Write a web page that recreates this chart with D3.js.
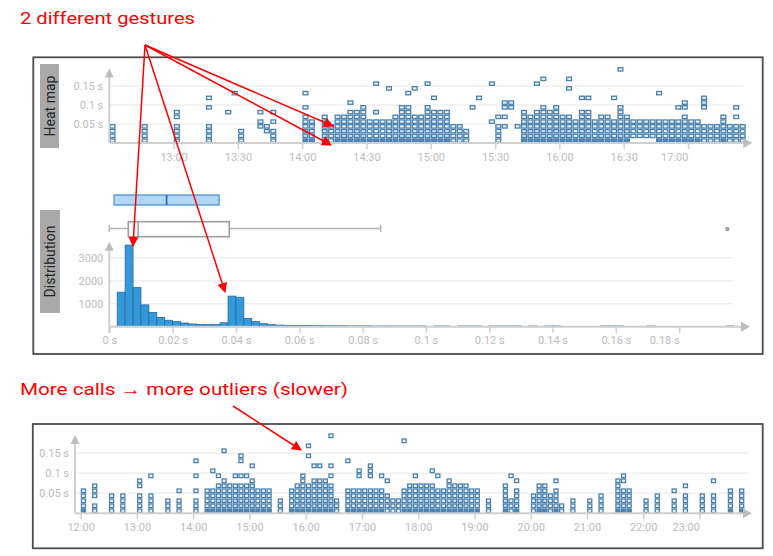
<!DOCTYPE html>
<html>
<head>
<meta charset="utf-8">
<script src="https://cdn.jsdelivr.net/npm/d3@7"></script>
<style>
  body { margin: 0; background: #fff; }
  text { font-family: Roboto, "Noto Sans", sans-serif; }
</style>
</head>
<body>
<svg id="chart" width="773" height="556"></svg>
<script>
// ---- data ----
// heat map cells: bucket start time, and filled 12.5 ms rows ("0-3 5" = rows 0,1,2,3,5)
const topTimes = ["12:30","12:45","13:00","13:15","13:24","13:27","13:30","13:39","13:42","13:45",
  "14:00","14:03","14:09","14:12","14:15","14:18","14:21","14:24","14:27","14:30","14:33","14:36",
  "14:39","14:42","14:45","14:48","14:51","14:54","14:57","15:00","15:03","15:06","15:09","15:12",
  "15:15","15:18","15:21","15:27","15:30","15:33","15:36","15:39","15:42","15:45","15:48","15:51",
  "15:54","15:57","16:00","16:03","16:06","16:09","16:12","16:15","16:18","16:21","16:24","16:27",
  "16:30","16:33","16:36","16:39","16:42","16:45","16:48","16:51","16:54","16:57","17:00","17:03",
  "17:06","17:09","17:12","17:15","17:18","17:21","17:24"];
const topCells = ["0-3","0-3","0-3 5 6","0-3 7 9","6","10","0-2","3 4 6","2 3","0-2 4 6",
  "0-5 7 10","0-4","0-5","0-3","0-5","0-5","0-6 8","0-6","0-7","0-4","0-4 6 12","0-4",
  "0-4 11","0-5","0-7","0-7 10","0-5 11","0-5","0-7 12","0-6 9","0-6","0-6","0-3","0-3",
  "0-2","7","9","4 12","0-3 5","3 5 7 8","7 8","3","0-6","0-5","0-6 12","0-7 13",
  "0-6","0-7","0-5","0-5 11 13","0-4","0-6 9","0-6 9","0-4","0-5","0-5","0-4 9","0-7 15",
  "0-5","1-4","1-4","1-4","1-4","0-4 10","0-4","0-4","0-4 7","0-5 7 8","0-4","0-4",
  "0-3 7-9","0-3","0-3","0-5","0-3","0-3 5 7","0-3"];

const bottomTimes = ["12:00","12:12","12:30","12:42","13:00","13:12","13:30","13:42","14:00","14:12",
  "14:18","14:24","14:30","14:36","14:42","14:48","14:54","15:00","15:06","15:12","15:18","15:30",
  "15:42","15:48","15:54","16:00","16:06","16:12","16:18","16:24","16:30","16:42","16:48","16:54",
  "17:00","17:06","17:12","17:18","17:24","17:30","17:36","17:42","17:48","17:54","18:00","18:06",
  "18:12","18:18","18:24","18:30","18:36","18:42","18:48","18:54","19:00","19:12","19:30","19:36",
  "19:42","20:00","20:06","20:12","20:18","20:24","20:30","20:42","21:00","21:12","21:30","21:36",
  "21:42","22:00","22:12","22:30","22:42","23:00","23:12","23:30","23:42"];
const bottomCells = ["0-4","0 1 3-5","0-3","0-3","0-3 5 6","0-3 7","0-2","0-2 4","0-2 4 7 10","0-4",
  "0-4 8","0-5 7","0-6 12","0-5","0-5 7","0-5 7 10 11","0-5 7","0-6 9","0-4","0-4","0-4","0-2",
  "0-4","0-5","0-7","0-5 11 13","0-6 9","0-6 9","0-6","0-5 7 9 15","0-2","0-4 10","0-4","0-4 7 8",
  "0-4","0-4 7-9","0-4","0-4 7","0-3 6","0-2","0-2","0-4 14","0-5","0-5 7","0-5","0-5",
  "0-5 8","0-4 7","0-4","0-6","0-5","0-5","0-5","0-4","0-4","0-2","0-5","0-2 7",
  "0-4 6","0-3","0-5","0-5","0-3","0-4 6","0-1","0-2","0-2","0-3","0-6","0-4 6 7",
  "0-4","0-2","0-3","0-2 4","0-3 5","0-3","0-3 6","0-4","0-4"];

const topTicks = ["13:00","13:30","14:00","14:30","15:00","15:30","16:00","16:30","17:00"];
const bottomTicks = ["12:00","13:00","14:00","15:00","16:00","17:00","18:00","19:00","20:00",
  "21:00","22:00","23:00"];
const heatTicks = [0.05, 0.1, 0.15];

// distribution: 2.5 ms bins starting at 2.5 ms
const histCounts = [1500,3550,1700,950,620,400,280,220,160,120,100,90,90,170,1330,1280,360,220,130,90,
  70,60,55,50,45,45,40,40,40,35,35,35,30,30,30,30,30,30,30,0,30,30,0,30,30,30,0,30,30,30,
  30,0,30,0,30,30,0,0,0,0,0,30,30,30,0,0,0,30,0,0,0,0,0,0,0,0,0,30];
const histTicksX = [0, 0.02, 0.04, 0.06, 0.08, 0.1, 0.12, 0.14, 0.16, 0.18];
const histTicksY = [1000, 2000, 3000];
const selectedBox = [0.0015, 0.0181, 0.0347];        // q1, median, q3
const allBox = [0, 0.006, 0.0091, 0.0379, 0.0857];    // min, q1, median, q3, max
const outliers = [0.1952];

// ---- drawing ----
const svg = d3.select("#chart");
const parseTime = d3.timeParse("%H:%M");
const axisGrey = "#cfcfcf", labelGrey = "#bcbcbc", gridGrey = "#f0f0f0";
const cellStroke = "#4a80b0";

svg.append("rect").attr("width", 773).attr("height", 556).attr("fill", "#fff");

function parseRows(spec) {
  return spec.split(" ").filter(Boolean).flatMap(part => {
    const [a, b] = part.split("-").map(Number);
    return b === undefined ? [a] : d3.range(a, b + 1);
  });
}

function arrowAxes(x0, y0, xEnd, yTop, yBottom) {
  const g = svg.append("g");
  g.append("line").attr("x1", x0).attr("x2", xEnd - 6).attr("y1", y0).attr("y2", y0)
    .attr("stroke", axisGrey).attr("stroke-width", 2);
  g.append("line").attr("x1", x0).attr("x2", x0).attr("y1", yBottom).attr("y2", yTop + 6)
    .attr("stroke", axisGrey).attr("stroke-width", 2);
  g.append("path").attr("fill", "#bdbdbd")
    .attr("d", `M${xEnd},${y0} L${xEnd - 9},${y0 - 5} L${xEnd - 9},${y0 + 5} Z`);
  g.append("path").attr("fill", "#bdbdbd")
    .attr("d", `M${x0},${yTop} L${x0 - 4.5},${yTop + 9} L${x0 + 4.5},${yTop + 9} Z`);
}

function styleAxis(g, lastEnd) {
  g.select(".domain").remove();
  g.selectAll(".tick line").attr("stroke", axisGrey).attr("stroke-width", 1.5);
  g.selectAll(".tick text").attr("fill", labelGrey).attr("font-size", 11);
  if (lastEnd) g.select(".tick:last-of-type text").attr("text-anchor", "end");
}

function heatMap(times, cells, domain, range, baseline, pxPerSec, binMin, gridEnd, ticks) {
  const x = d3.scaleTime().domain(domain.map(parseTime)).range(range);
  const y = d3.scaleLinear().domain([0, 0.2]).range([baseline, baseline - 0.2 * pxPerSec]);
  const rowSec = 0.0125;

  svg.append("g").selectAll("line").data(heatTicks).join("line")
    .attr("x1", range[0]).attr("x2", gridEnd).attr("y1", y).attr("y2", y)
    .attr("stroke", gridGrey).attr("stroke-width", 1.5);

  const flat = [];
  times.forEach((t, i) => {
    const rows = parseRows(cells[i]);
    let height = 0;
    while (rows.includes(height)) height++;
    rows.forEach(r => flat.push({ t: parseTime(t), r, height }));
  });

  svg.append("g").selectAll("rect").data(flat).join("rect")
    .attr("x", d => x(d.t) + 0.8)
    .attr("y", d => y((d.r + 1) * rowSec) + 0.7)
    .attr("width", d => x(d3.timeMinute.offset(d.t, binMin)) - x(d.t) - 1.6)
    .attr("height", d => y(d.r * rowSec) - y((d.r + 1) * rowSec) - 1.4)
    .attr("fill", d => (d.r === 0 && d.height >= 5) ? "#4f86b6" : (d.r < 3 && d.height >= 6 ? "#c9dcee" : "#eef4fa"))
    .attr("stroke", cellStroke).attr("stroke-width", 1.3);

  arrowAxes(range[0], baseline, range[1], baseline - 0.2 * pxPerSec + 0.004 * pxPerSec, baseline);

  const ax = svg.append("g").attr("transform", `translate(0,${baseline})`)
    .call(d3.axisBottom(x).tickValues(ticks.map(parseTime)).tickSize(6).tickPadding(4)
      .tickFormat(d3.timeFormat("%H:%M")));
  styleAxis(ax, true);

  const ay = svg.append("g").attr("transform", `translate(${range[0]},0)`)
    .call(d3.axisLeft(y).tickValues(heatTicks).tickSize(0).tickPadding(6)
      .tickFormat(d => `${d} s`));
  styleAxis(ay, false);
}

function panelLabel(text, x, y, w, h) {
  svg.append("rect").attr("x", x).attr("y", y).attr("width", w).attr("height", h).attr("fill", "#a9a9a9");
  svg.append("text").attr("transform", `translate(${x + w / 2 + 5},${y + h / 2}) rotate(-90)`)
    .attr("text-anchor", "middle").attr("font-size", 14).attr("fill", "#222").text(text);
}

// frames
svg.append("rect").attr("x", 33.3).attr("y", 57.3).attr("width", 729.4).attr("height", 296.7)
  .attr("fill", "none").attr("stroke", "#4d4d4d").attr("stroke-width", 1.8);
svg.append("rect").attr("x", 32.8).attr("y", 424).attr("width", 729.9).attr("height", 124.3)
  .attr("fill", "none").attr("stroke", "#4d4d4d").attr("stroke-width", 1.8);

panelLabel("Heat map", 40, 64, 19, 84);
panelLabel("Distribution", 40, 210, 20, 103);

heatMap(topTimes, topCells, ["12:30", "17:30"], [109.3, 752.3], 143, 380, 3, 743, topTicks);
heatMap(bottomTimes, bottomCells, ["11:54", "23:56"], [75, 752], 513.3, 400, 6, 748, bottomTicks);

// distribution histogram
const hx = d3.scaleLinear().domain([0, 0.2]).range([109.3, 742.5]);
const hy = d3.scaleLinear().domain([0, 4000]).range([326.7, 234.7]);
const binW = 0.0025;

svg.append("g").selectAll("line").data(histTicksY).join("line")
  .attr("x1", 109.3).attr("x2", 732.7).attr("y1", hy).attr("y2", hy)
  .attr("stroke", gridGrey).attr("stroke-width", 1.5);

svg.append("g").selectAll("rect").data(histCounts.map((c, i) => ({ c, x0: binW * (i + 1) })).filter(d => d.c > 0))
  .join("rect")
  .attr("x", d => hx(d.x0)).attr("width", d => hx(d.x0 + binW) - hx(d.x0))
  .attr("y", d => hy(d.c)).attr("height", d => hy(0) - hy(d.c))
  .attr("fill", "#3399db").attr("stroke", "#2a6a9c").attr("stroke-width", 0.8);

arrowAxes(109.3, 326.7, 750, 241.7, 333);

const hax = svg.append("g").attr("transform", "translate(0,326.7)")
  .call(d3.axisBottom(hx).tickValues(histTicksX).tickSize(6).tickPadding(4)
    .tickFormat(d => `${+d.toFixed(2)} s`));
styleAxis(hax, true);
const hay = svg.append("g").attr("transform", "translate(109.3,0)")
  .call(d3.axisLeft(hy).tickValues(histTicksY).tickSize(0).tickPadding(6).tickFormat(d3.format("d")));
styleAxis(hay, false);

// box plots above the histogram
const [sq1, smed, sq3] = selectedBox;
svg.append("rect").attr("x", hx(sq1)).attr("y", 195).attr("width", hx(sq3) - hx(sq1)).attr("height", 10)
  .attr("fill", "#b1d8f3").attr("stroke", "#4d94cc").attr("stroke-width", 1.3);
svg.append("line").attr("x1", hx(smed)).attr("x2", hx(smed)).attr("y1", 195).attr("y2", 205)
  .attr("stroke", "#2d6fa6").attr("stroke-width", 1.8);

const [bmin, bq1, bmed, bq3, bmax] = allBox;
const boxG = svg.append("g").attr("stroke", "#b5b5b5").attr("stroke-width", 1.5).attr("fill", "none");
boxG.append("line").attr("x1", hx(bmin)).attr("x2", hx(bmax)).attr("y1", 228.5).attr("y2", 228.5);
boxG.selectAll(".cap").data([bmin, bmax]).join("line")
  .attr("x1", hx).attr("x2", hx).attr("y1", 225).attr("y2", 232);
boxG.append("rect").attr("x", hx(bq1)).attr("y", 221.7).attr("width", hx(bq3) - hx(bq1)).attr("height", 15)
  .attr("fill", "#fff").attr("stroke", "#9e9e9e").attr("stroke-width", 1.6);
boxG.append("line").attr("x1", hx(bmed)).attr("x2", hx(bmed)).attr("y1", 221.7).attr("y2", 236.7)
  .attr("stroke", "#9e9e9e");
svg.append("g").selectAll("circle").data(outliers).join("circle")
  .attr("cx", hx).attr("cy", 229).attr("r", 2.2).attr("fill", "#a0a0a0");

// annotations
const red = "#ff0000";
const defs = svg.append("defs");
defs.append("marker").attr("id", "head").attr("viewBox", "0 0 10 10").attr("refX", 9).attr("refY", 5)
  .attr("markerWidth", 12).attr("markerHeight", 10).attr("markerUnits", "userSpaceOnUse")
  .attr("orient", "auto")
  .append("path").attr("d", "M0,0 L10,5 L0,10 Z").attr("fill", red);

const gestureTips = [[333, 126], [331, 145], [133, 246], [225, 292]];
svg.append("g").selectAll("line").data(gestureTips).join("line")
  .attr("x1", 145).attr("y1", 45).attr("x2", d => d[0]).attr("y2", d => d[1])
  .attr("stroke", red).attr("stroke-width", 1.5).attr("marker-end", "url(#head)");
svg.append("line").attr("x1", 233).attr("y1", 406).attr("x2", 301).attr("y2", 450)
  .attr("stroke", red).attr("stroke-width", 1.5).attr("marker-end", "url(#head)");

svg.append("text").attr("x", 20).attr("y", 24).attr("fill", red)
  .attr("font-family", "'Liberation Sans', Arial, sans-serif").attr("font-size", 17)
  .attr("textLength", 175).attr("lengthAdjust", "spacingAndGlyphs")
  .text("2 different gestures");
svg.append("text").attr("x", 20).attr("y", 395).attr("fill", red)
  .attr("font-family", "'Liberation Sans', Arial, sans-serif").attr("font-size", 17)
  .attr("textLength", 328).attr("lengthAdjust", "spacingAndGlyphs")
  .text("More calls \u2192 more outliers (slower)");
</script>
</body>
</html>
